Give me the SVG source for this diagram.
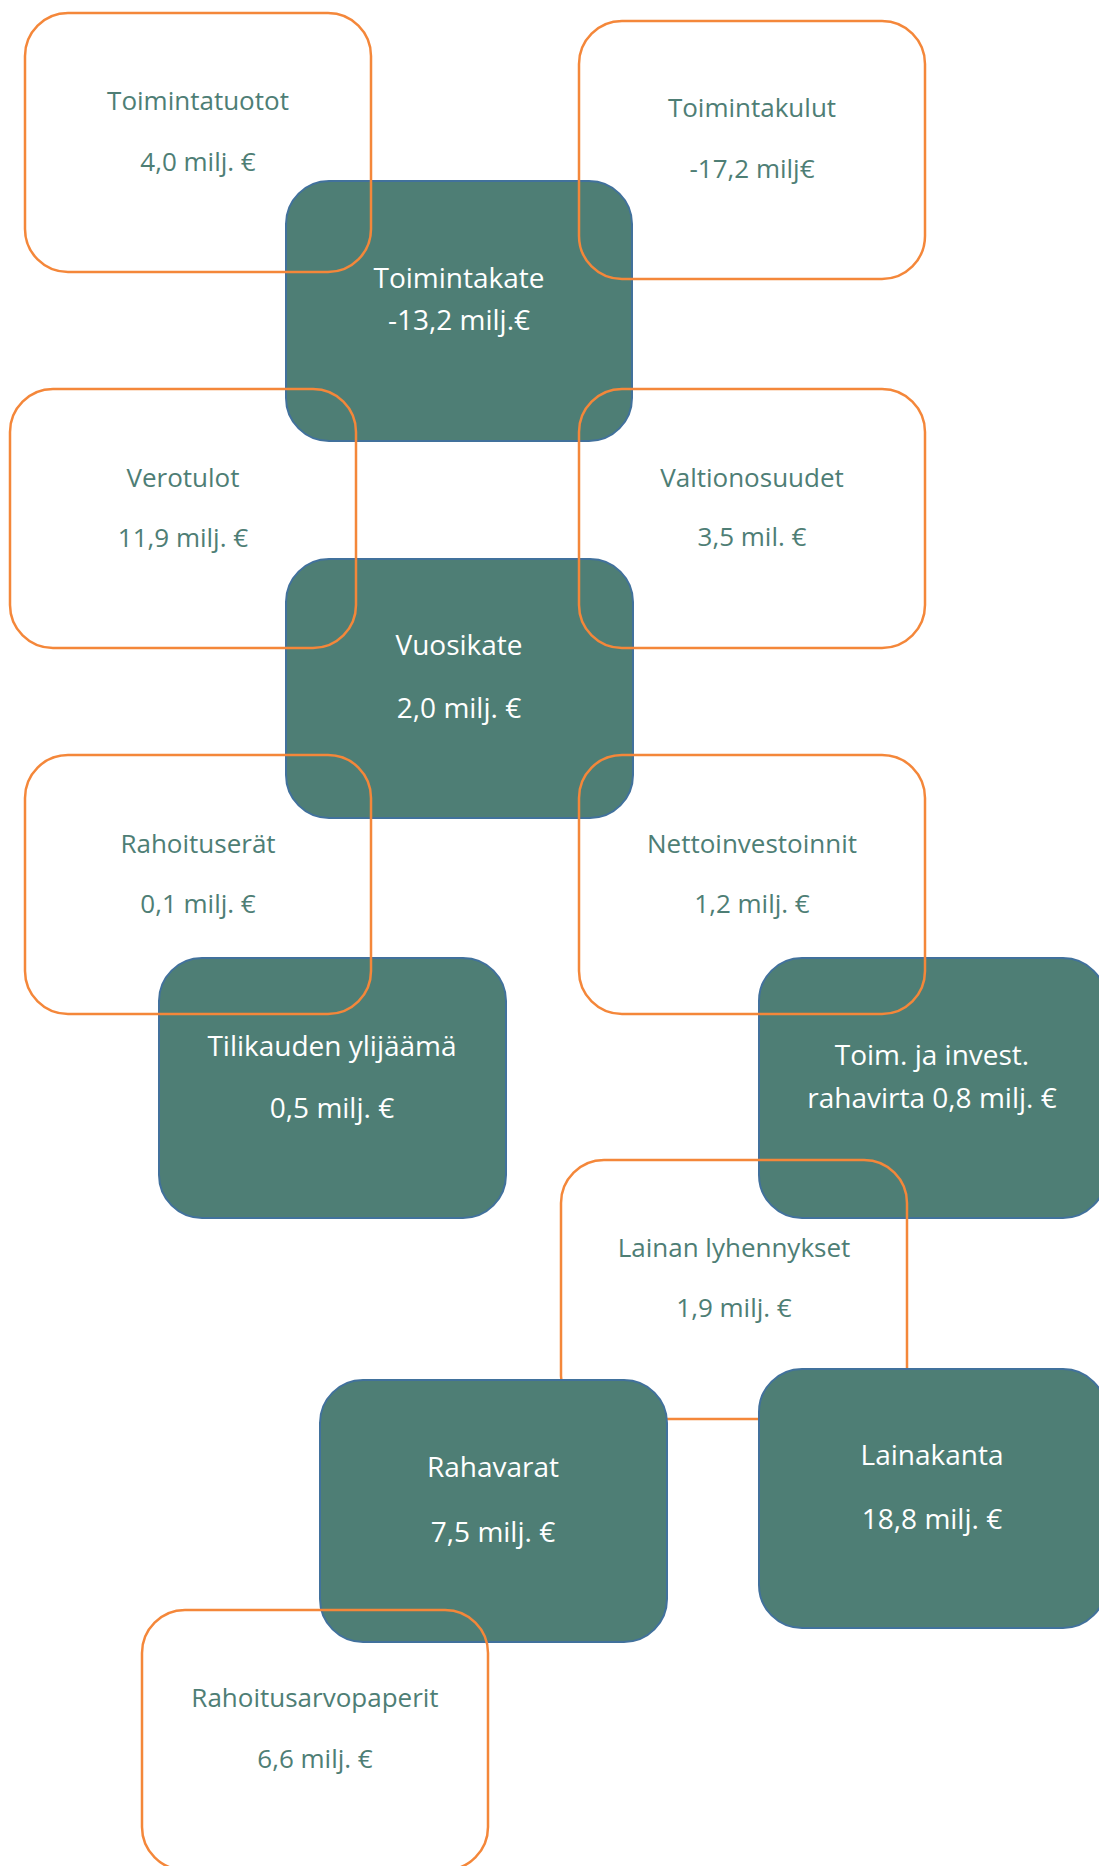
<svg xmlns="http://www.w3.org/2000/svg" width="1099" height="1866" viewBox="0 0 1099 1866">
<style>
.t{fill:#4E7E75;stroke:#41719C;stroke-width:2}
.o{fill:none;stroke:#F4873A;stroke-width:2.5}
text{font-family:"Open Sans","Liberation Sans",sans-serif;text-anchor:middle}
.w{fill:#FFFFFF;font-size:28px}
.g{fill:#4E7E75;font-size:26px}
</style>
<rect width="1099" height="1866" fill="#FFFFFF"/>
<g id="connectors"/>
<g id="toimintakate"><rect class="t" x="286" y="181" width="346" height="260" rx="43"/><text class="w" x="459" y="288">Toimintakate</text><text class="w" x="459" y="330">-13,2 milj.€</text></g>
<g id="vuosikate"><rect class="t" x="286" y="559" width="347" height="259" rx="43"/><text class="w" x="459" y="655">Vuosikate</text><text class="w" x="459" y="718">2,0 milj. €</text></g>
<g id="tilikauden-ylijaama"><rect class="t" x="159" y="958" width="347" height="260" rx="43"/><text class="w" x="332" y="1056">Tilikauden ylijäämä</text><text class="w" x="332" y="1118">0,5 milj. €</text></g>
<g id="toim-invest-rahavirta"><rect class="t" x="759" y="958" width="347" height="260" rx="43"/><text class="w" x="932" y="1065">Toim. ja invest.</text><text class="w" x="932" y="1108">rahavirta 0,8 milj. €</text></g>
<g id="toimintatuotot"><rect class="o" x="25" y="13" width="346" height="259" rx="43"/><text class="g" x="198" y="110">Toimintatuotot</text><text class="g" x="198" y="171">4,0 milj. €</text></g>
<g id="toimintakulut"><rect class="o" x="579" y="21" width="346" height="258" rx="43"/><text class="g" x="752" y="117">Toimintakulut</text><text class="g" x="752" y="178">-17,2 milj€</text></g>
<g id="verotulot"><rect class="o" x="10" y="389" width="346" height="259" rx="43"/><text class="g" x="183" y="487">Verotulot</text><text class="g" x="183" y="547">11,9 milj. €</text></g>
<g id="valtionosuudet"><rect class="o" x="579" y="389" width="346" height="259" rx="43"/><text class="g" x="752" y="487">Valtionosuudet</text><text class="g" x="752" y="546">3,5 mil. €</text></g>
<g id="rahoituserat"><rect class="o" x="25" y="755" width="346" height="259" rx="43"/><text class="g" x="198" y="853">Rahoituserät</text><text class="g" x="198" y="913">0,1 milj. €</text></g>
<g id="nettoinvestoinnit"><rect class="o" x="579" y="755" width="346" height="259" rx="43"/><text class="g" x="752" y="853">Nettoinvestoinnit</text><text class="g" x="752" y="913">1,2 milj. €</text></g>
<g id="lainan-lyhennykset"><rect class="o" x="561" y="1160" width="346" height="259" rx="43"/><text class="g" x="734" y="1257">Lainan lyhennykset</text><text class="g" x="734" y="1317">1,9 milj. €</text></g>
<g id="rahavarat"><rect class="t" x="320" y="1380" width="347" height="262" rx="43"/><text class="w" x="493" y="1477">Rahavarat</text><text class="w" x="493" y="1542">7,5 milj. €</text></g>
<g id="lainakanta"><rect class="t" x="759" y="1369" width="347" height="259" rx="43"/><text class="w" x="932" y="1465">Lainakanta</text><text class="w" x="932" y="1529">18,8 milj. €</text></g>
<g id="rahoitusarvopaperit"><rect class="o" x="142" y="1610" width="346" height="260" rx="43"/><text class="g" x="315" y="1707">Rahoitusarvopaperit</text><text class="g" x="315" y="1768">6,6 milj. €</text></g>
</svg>
